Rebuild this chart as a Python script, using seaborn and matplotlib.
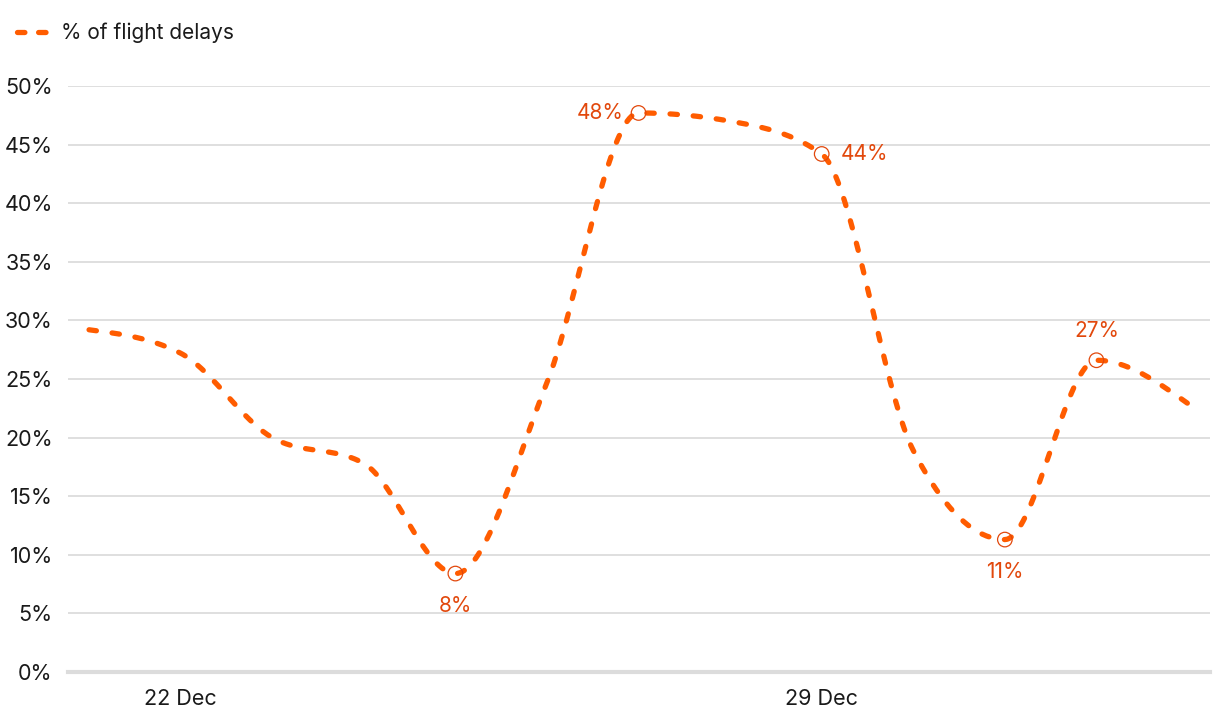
import matplotlib
matplotlib.use("Agg")
import matplotlib.pyplot as plt
from matplotlib.lines import Line2D
from matplotlib.ticker import PercentFormatter
import numpy as np
import pandas as pd
import seaborn as sns

# Daily share of delayed flights (%), 21 Dec - 2 Jan
dates = pd.date_range("2023-12-21", periods=13, freq="D")
delay_pct = [29.2, 27.2, 20.0, 17.8, 8.4, 24.7, 47.7, 47.0, 44.2, 18.9, 11.3, 26.6, 22.9]
label_idx = [4, 6, 8, 10, 11]
label_pos = ["below", "left", "right", "below", "above"]
tick_days = [1, 8]
tick_labels = ["22 Dec", "29 Dec"]
series_name = "% of flight delays"

LINE = "#ff5c00"
TEXT_HL = "#e2480c"
GRID = "#dcdcdc"


def monotone_curve(x, y, n=40):
    # monotone cubic (d3 curveMonotoneX style), only used to draw the smooth line
    x = np.asarray(x, float)
    y = np.asarray(y, float)
    h = np.diff(x)
    s = np.diff(y) / h
    t = np.zeros_like(y)
    for i in range(1, len(y) - 1):
        s0, s1 = s[i - 1], s[i]
        p = (s0 * h[i] + s1 * h[i - 1]) / (h[i - 1] + h[i])
        t[i] = (np.sign(s0) + np.sign(s1)) * min(abs(s0), abs(s1), 0.5 * abs(p))
    t[0] = (3 * s[0] - t[1]) / 2
    t[-1] = (3 * s[-1] - t[-2]) / 2
    xs, ys = [], []
    for i in range(len(y) - 1):
        u = np.linspace(0, 1, n, endpoint=False)
        h00 = 2 * u**3 - 3 * u**2 + 1
        h10 = u**3 - 2 * u**2 + u
        h01 = -2 * u**3 + 3 * u**2
        h11 = u**3 - u**2
        xs.append(x[i] + u * h[i])
        ys.append(h00 * y[i] + h10 * h[i] * t[i] + h01 * y[i + 1] + h11 * h[i] * t[i + 1])
    xs.append([x[-1]])
    ys.append([y[-1]])
    return np.concatenate(xs), np.concatenate(ys)


sns.set_theme(style="white")
plt.rcParams["font.family"] = ["Inter", "DejaVu Sans"]

fig = plt.figure(figsize=(12.2, 7.24), dpi=100)
ax = fig.add_axes([68 / 1220, 52 / 724, 1142 / 1220, 586 / 724])

day_idx = np.arange(len(dates))
sx, sy = monotone_curve(day_idx, delay_pct)
sns.lineplot(x=sx, y=sy, ax=ax, color=LINE, linewidth=3.8,
             linestyle=(0, (1.4, 3.0)), sort=False, estimator=None,
             clip_on=False, zorder=3)
ax.lines[-1].set_dash_capstyle("round")

# hollow markers and value labels on the highlighted days
lab_y = [delay_pct[i] for i in label_idx]
ax.scatter(label_idx, lab_y, s=110, facecolors="none", edgecolors=TEXT_HL,
           linewidths=0.9, zorder=4, clip_on=False)
offsets = {"below": (0, -16, "center", "top"), "above": (0, 14, "center", "bottom"),
           "left": (-11, 0, "right", "center"), "right": (14, 0, "left", "center")}
for i, pos in zip(label_idx, label_pos):
    dx, dy, ha, va = offsets[pos]
    ax.annotate(f"{int(delay_pct[i] + 0.5)}%", (i, delay_pct[i]), xytext=(dx, dy),
                textcoords="offset points", ha=ha, va=va, color=TEXT_HL, fontsize=15)

ax.set_xlim(-0.23, 12.24)
ax.set_ylim(0, 50)
ax.set_yticks(range(0, 51, 5))
ax.yaxis.set_major_formatter(PercentFormatter(decimals=0))
ax.set_xticks(tick_days)
ax.set_xticklabels(tick_labels)
ax.tick_params(axis="both", length=0, labelsize=15.5, colors="#1a1a1a")
ax.tick_params(axis="y", pad=11)
ax.tick_params(axis="x", pad=12)
ax.grid(axis="y", color=GRID, linewidth=1.3)
ax.set_axisbelow(True)
for sp in ["top", "right", "left"]:
    ax.spines[sp].set_visible(False)
ax.spines["bottom"].set_color(GRID)
ax.spines["bottom"].set_linewidth(3)
ax.set_xlabel("")
ax.set_ylabel("")

handle = Line2D([], [], color=LINE, linewidth=3.8, linestyle=(0, (1.4, 2.6)),
                dash_capstyle="round")
fig.legend([handle], [series_name], loc="upper left", bbox_to_anchor=(0.0, 0.992),
           frameon=False, fontsize=15, handlelength=1.6, handletextpad=0.55,
           labelcolor="#1a1a1a", borderaxespad=0.4)

fig.savefig("out.png", dpi=100, facecolor="white")
